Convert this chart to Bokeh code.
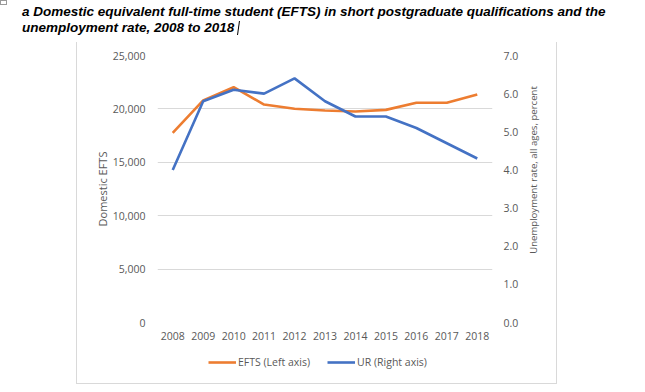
from bokeh.plotting import figure
from bokeh.models import (ColumnDataSource, LinearAxis, Range1d, FactorRange, FixedTicker,
                          NumeralTickFormatter, Legend, LegendItem, Div, Spacer)
from bokeh.layouts import column, row
from bokeh.embed import file_html
from bokeh.resources import INLINE

years = ["2008", "2009", "2010", "2011", "2012", "2013", "2014", "2015", "2016", "2017", "2018"]
efts = [17760, 20790, 22030, 20410, 20010, 19850, 19760, 19910, 20570, 20570, 21350]
ur = [4.0, 5.8, 6.1, 6.0, 6.4, 5.8, 5.4, 5.4, 5.1, 4.7, 4.3]
left_ticks = [0, 5000, 10000, 15000, 20000, 25000]
right_ticks = [0, 1, 2, 3, 4, 5, 6, 7]
title_line1 = "a Domestic equivalent full-time student (EFTS) in short postgraduate qualifications and the"
title_line2 = "unemployment rate, 2008 to 2018"
series_labels = ["EFTS (Left axis)", "UR (Right axis)"]
left_axis_title = "Domestic EFTS"
right_axis_title = "Unemployment rate, all ages, percent"

FONT = "Open Sans"
TXT = "#595959"
GRID = "#D9D9D9"
ORANGE = "#ED7D31"
BLUE = "#4472C4"

src = ColumnDataSource(dict(year=years, efts=efts, ur=ur))

# ---- title ----
title_div = Div(
    text=('<div style="position:relative;font-family:\'Liberation Sans\';font-weight:bold;'
          'font-style:italic;font-size:13.5px;line-height:16px;color:#000;white-space:nowrap;'
          'padding-left:22px;padding-top:4px;margin:0;">'
          '<span style="position:absolute;left:0;top:0;width:7px;height:5px;'
          'border:1px solid #9a9a9a;"></span>'
          f'{title_line1}<br>{title_line2}'
          '<span style="display:inline-block;width:0;height:14px;border-left:1px solid #000;'
          'vertical-align:-3px;margin-left:4px;transform:skewX(-8deg);"></span></div>'),
    width=640, height=42, margin=0)

# ---- main chart ----
p = figure(width=449, height=304, x_range=FactorRange(*years), y_range=Range1d(0, 25000),
           output_backend="svg", toolbar_location=None, margin=0,
           min_border_left=80, min_border_right=34, min_border_top=13, min_border_bottom=24)
p.extra_y_ranges = {"ur": Range1d(0, 7)}
p.outline_line_color = None
p.background_fill_color = "white"
p.border_fill_color = "white"

p.xgrid.grid_line_color = None
p.ygrid.grid_line_color = GRID
p.ygrid.grid_line_width = 1
p.ygrid.ticker = FixedTicker(ticks=left_ticks)

def style_axis(ax, label_size="10.5px"):
    ax.axis_line_color = None
    ax.major_tick_line_color = None
    ax.minor_tick_line_color = None
    ax.major_label_text_font = FONT
    ax.major_label_text_font_size = "10.5px"
    ax.major_label_text_color = TXT
    ax.axis_label_text_font = FONT
    ax.axis_label_text_font_size = label_size
    ax.axis_label_text_color = TXT
    ax.axis_label_text_font_style = "normal"

ly = p.yaxis[0]
ly.ticker = FixedTicker(ticks=left_ticks)
ly.formatter = NumeralTickFormatter(format="0,0")
ly.axis_label = left_axis_title
style_axis(ly, "11px")
ly.major_label_standoff = 6
ly.axis_label_standoff = 0

ry = LinearAxis(y_range_name="ur", ticker=FixedTicker(ticks=right_ticks),
                formatter=NumeralTickFormatter(format="0.0"))
style_axis(ry)
ry.major_label_standoff = 5
p.add_layout(ry, "right")

xa = p.xaxis[0]
style_axis(xa)
xa.major_label_standoff = 3
p.x_range.range_padding = 0

p.line("year", "efts", source=src, color=ORANGE, line_width=2.6)
p.line("year", "ur", source=src, color=BLUE, line_width=2.6, y_range_name="ur")

# ---- right axis title (reads bottom to top, as in the reference) ----
right_title_div = Div(
    text=('<div style="position:relative;width:30px;height:341px;">'
          '<div style="position:absolute;left:7px;top:128px;transform:translate(-50%,-50%) rotate(-90deg);'
          f'white-space:nowrap;font-family:\'Open Sans\';font-size:9.6px;color:{TXT};line-height:13px;">'
          f'{right_axis_title}</div></div>'),
    width=30, height=341, margin=0)

# ---- legend strip (its frame is aligned with the chart's frame by the column layout) ----
leg = figure(width=449, height=37, x_range=p.x_range, y_range=Range1d(-2, -1),
             x_axis_type=None, y_axis_type=None, output_backend="svg", toolbar_location=None,
             min_border=0, margin=0)
leg.extra_y_ranges = {"ur": Range1d(-2, -1)}
leg.outline_line_color = None
leg.grid.visible = False
lr1 = leg.line("year", "efts", source=src, color=ORANGE, line_width=2.6)
lr2 = leg.line("year", "ur", source=src, color=BLUE, line_width=2.6, y_range_name="ur")
legend = Legend(items=[LegendItem(label=series_labels[0], renderers=[lr1]),
                       LegendItem(label=series_labels[1], renderers=[lr2])],
                orientation="horizontal", location=(51, 14), border_line_color=None,
                background_fill_alpha=0, label_text_font=FONT, label_text_font_size="10.5px",
                label_text_color=TXT, glyph_width=28, glyph_height=14, label_height=14,
                label_standoff=2, spacing=17, padding=0, margin=0)
leg.add_layout(legend, "center")

# ---- chart box borders ----
line_style = {"background-color": GRID}
vline_l = Spacer(width=1, height=342, margin=0, styles=line_style)
vline_r = Spacer(width=1, height=342, margin=0, styles=line_style)
hline_b1 = Spacer(width=449, height=1, margin=0, styles=line_style)
hline_b2 = Spacer(width=30, height=1, margin=0, styles=line_style)

box = row(Spacer(width=76, height=1, margin=0), vline_l,
          column(p, leg, hline_b1, spacing=0, margin=0),
          column(right_title_div, hline_b2, spacing=0, margin=0),
          vline_r, spacing=0, margin=0)
page = column(title_div, box, spacing=0, margin=0)

open("out.html", "w").write(file_html(page, INLINE))
